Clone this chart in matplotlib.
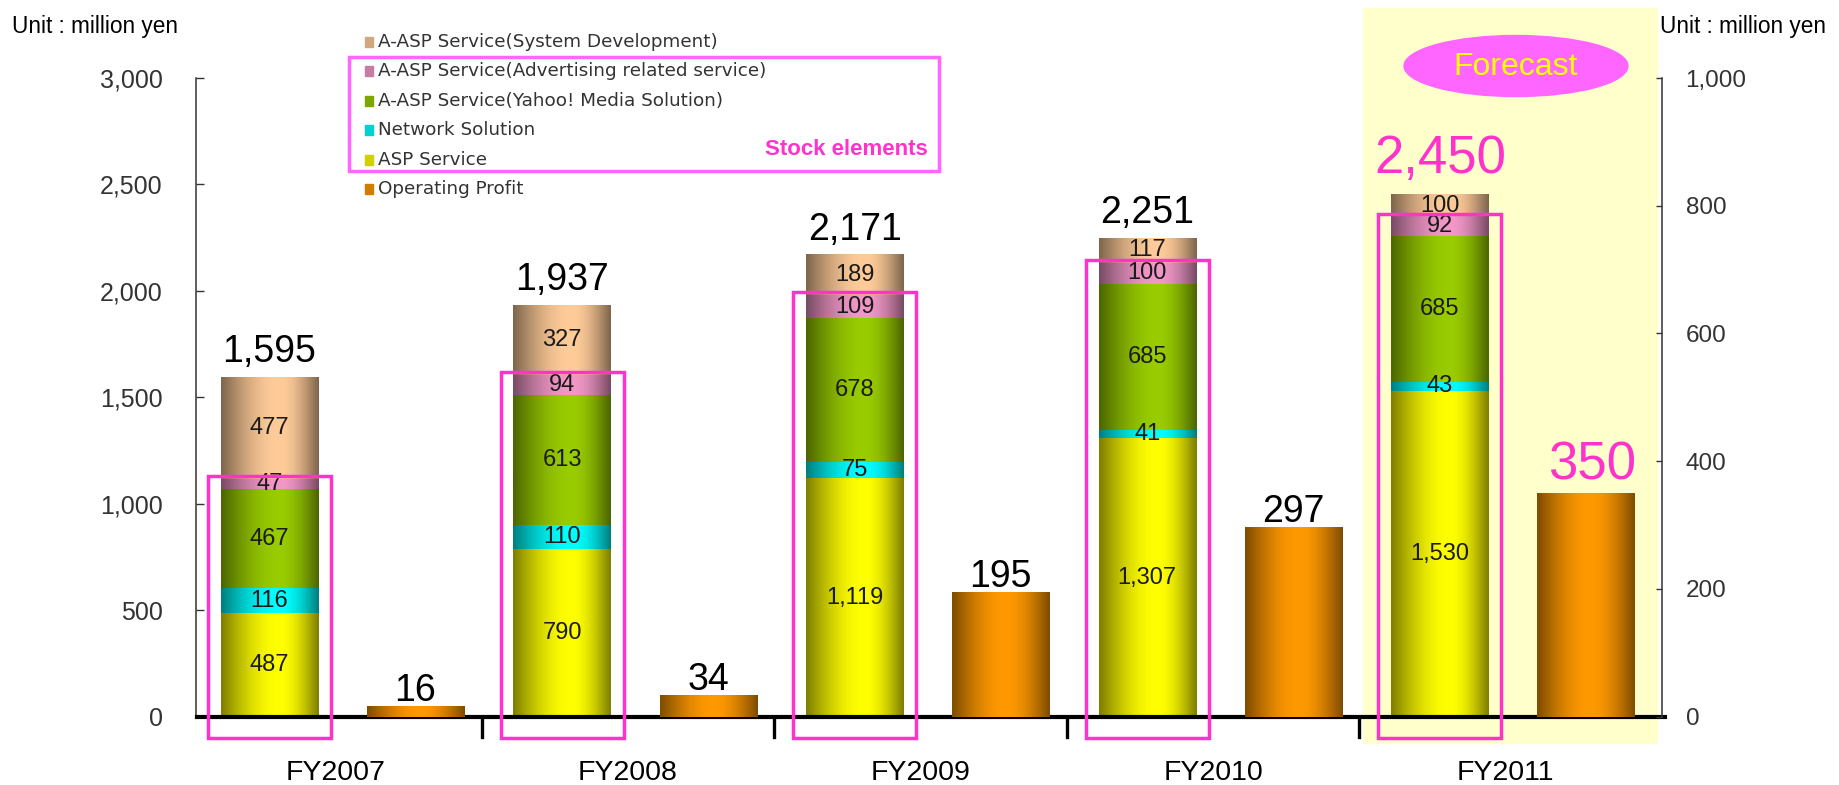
import numpy as np
import matplotlib.pyplot as plt
from matplotlib.patches import Rectangle, Ellipse
from matplotlib.colors import to_rgb

plt.rcParams['font.family'] = ['Liberation Sans', 'DejaVu Sans']

# sales breakdown (left axis) and operating profit (right axis), million yen
years = ['FY2007', 'FY2008', 'FY2009', 'FY2010', 'FY2011']
asp_service = [487, 790, 1119, 1307, 1530]
network_solution = [116, 110, 75, 41, 43]
yahoo_media = [467, 613, 678, 685, 685]
advertising = [47, 94, 109, 100, 92]
system_dev = [477, 327, 189, 117, 100]
sales_total = [1595, 1937, 2171, 2251, 2450]
operating_profit = [16, 34, 195, 297, 350]

left_ticks = [0, 500, 1000, 1500, 2000, 2500, 3000]
right_ticks = [0, 200, 400, 600, 800, 1000]

segments = [
    ('ASP Service', asp_service, '#FFFF00'),
    ('Network Solution', network_solution, '#00FFFF'),
    ('A-ASP Service(Yahoo! Media Solution)', yahoo_media, '#99CC00'),
    ('A-ASP Service(Advertising related service)', advertising, '#F298C8'),
    ('A-ASP Service(System Development)', system_dev, '#FFCC99'),
]
profit_color = '#FF9900'
magenta = '#FF33CC'

W, H = 1839, 785


def fx(px):
    return px / W


def fy(py):
    return 1 - py / H


def shade(color, n=64, peak=0.6):
    # cylinder look: dark edges, bright band a little right of centre
    t = np.linspace(0, 1, n)
    u = np.where(t < peak, t / peak, (1 - t) / (1 - peak))
    f = 0.5 + 0.5 * np.sin(u * np.pi / 2)
    return np.clip(np.array(to_rgb(color))[None, None, :] * f[None, :, None], 0, 1)


def gradient_bars(axis, bars, color, peak=0.6):
    img = shade(color, peak=peak)
    for r in bars:
        x, y = r.get_xy()
        w, h = r.get_width(), r.get_height()
        axis.imshow(img, extent=(x, x + w, y, y + h), aspect='auto',
                    interpolation='bilinear', zorder=2)
        r.set_visible(False)


fig = plt.figure(figsize=(W / 100, H / 100), dpi=100)

# forecast background
fig.patches.append(Rectangle((fx(1363), fy(743)), (1657 - 1363) / W, (743 - 8) / H,
                             transform=fig.transFigure, color='#FFFFCC', zorder=-1))

ax = fig.add_axes([fx(196), fy(716.7), 1466 / W, (716.7 - 78) / H])
ax2 = ax.twinx()
ax.patch.set_visible(False)
ax2.patch.set_visible(False)

x = np.arange(len(years))
bw = 0.332
xs = x - 0.225
xp = x + 0.274

bottom = np.zeros(len(years))
for name, vals, col in segments:
    bars = ax.bar(xs, vals, bw, bottom=bottom, linewidth=0)
    gradient_bars(ax, bars, col)
    for xi, b, v in zip(xs, bottom, vals):
        ax.text(xi, b + v / 2, f'{v:,}', ha='center', va='center',
                fontsize=17, color='#1a1a1a', zorder=4)
    bottom = bottom + np.array(vals)

# stock elements frame around the lower four segments
stock = np.array(asp_service) + np.array(network_solution) + np.array(yahoo_media) + np.array(advertising)
for xi, s in zip(xs, stock):
    ax.add_patch(Rectangle((xi - bw / 2 - 0.044, -100), bw + 0.088, s + 112,
                           fill=False, edgecolor=magenta, linewidth=2.5,
                           clip_on=False, zorder=6))

# total labels
for i, (xi, top, tot) in enumerate(zip(xs, bottom, sales_total)):
    if i == len(years) - 1:
        ax.annotate(f'{tot:,}', (xi, top), xytext=(0, 22), textcoords='offset pixels',
                    ha='center', va='baseline', fontsize=38, color=magenta)
    else:
        ax.annotate(f'{tot:,}', (xi, top), xytext=(0, 15), textcoords='offset pixels',
                    ha='center', va='baseline', fontsize=27, color='black')

pbars = ax2.bar(xp, operating_profit, bw, linewidth=0)
gradient_bars(ax2, pbars, profit_color, peak=0.55)
for i, (xi, v) in enumerate(zip(xp, operating_profit)):
    if i == len(years) - 1:
        ax2.annotate(f'{v:,}', (xi, v), xytext=(6, 14), textcoords='offset pixels',
                     ha='center', va='baseline', fontsize=38, color=magenta)
    else:
        ax2.annotate(f'{v:,}', (xi, v), xytext=(0, 5), textcoords='offset pixels',
                     ha='center', va='baseline', fontsize=27, color='black')

ax.set_xlim(-0.476, 4.534)
ax.set_ylim(0, 3000)
ax2.set_ylim(0, 1000)

ax.set_yticks(left_ticks)
ax.set_yticklabels([f'{t:,}' for t in left_ticks])
ax2.set_yticks(right_ticks)
ax2.set_yticklabels([f'{t:,}' for t in right_ticks])
ax.tick_params(axis='y', direction='in', length=6, width=1, color='#333333',
               pad=24, labelsize=18, labelcolor='#333333')
ax2.tick_params(axis='y', direction='in', length=4, width=1, color='#333333',
                pad=17, labelsize=17.5, labelcolor='#333333')
ax.set_xticks(x)
ax.set_xticklabels(years)
ax.tick_params(axis='x', length=0, pad=31, labelsize=20.5)

for s in ['top', 'right', 'bottom']:
    ax.spines[s].set_visible(False)
for s in ['top', 'left', 'bottom']:
    ax2.spines[s].set_visible(False)
ax.spines['left'].set_color('#333333')
ax.spines['left'].set_linewidth(1.1)
ax2.spines['right'].set_color('#333333')
ax2.spines['right'].set_linewidth(1.1)

# thick baseline and year separators
ax.axhline(0, xmin=0.001, xmax=1.002, color='black', linewidth=3, clip_on=False, zorder=5)
for b in x[:-1] + 0.5:
    ax.plot([b, b], [0, -95], color='black', linewidth=2.4, clip_on=False, zorder=5)

# unit captions
fig.text(fx(12), fy(33), 'Unit : million yen', fontsize=16.3, va='baseline')
fig.text(fx(1660), fy(33), 'Unit : million yen', fontsize=16.3, va='baseline')

# forecast badge
fig.patches.append(Ellipse((fx(1516), fy(66)), 224 / W, 61 / H,
                           transform=fig.transFigure, color='#FF66FF', zorder=3))
fig.text(fx(1516), fy(67), 'Forecast', fontsize=23, color='#FFFF00',
         ha='center', va='center', zorder=4)

# legend
legend_items = [(name, col) for name, _, col in segments[::-1]] + [('Operating Profit', profit_color)]
for k, (name, col) in enumerate(legend_items):
    yc = 42 + k * 29.4
    c = np.array(to_rgb(col)) * 0.82
    fig.patches.append(Rectangle((fx(365), fy(yc + 5)), 8 / W, 10 / H,
                                 transform=fig.transFigure, color=c, zorder=3))
    fig.text(fx(378), fy(yc), name, fontsize=13.2, color='#333333', va='center',
             family=['DejaVu Sans'])

fig.patches.append(Rectangle((fx(349), fy(171)), (939 - 349) / W, (171 - 57) / H,
                             transform=fig.transFigure, fill=False,
                             edgecolor='#FF66FF', linewidth=2.5, zorder=3))
fig.text(fx(928), fy(155), 'Stock elements', fontsize=16, fontweight='bold',
         color=magenta, ha='right', va='baseline')

fig.savefig('out.png', dpi=100)
